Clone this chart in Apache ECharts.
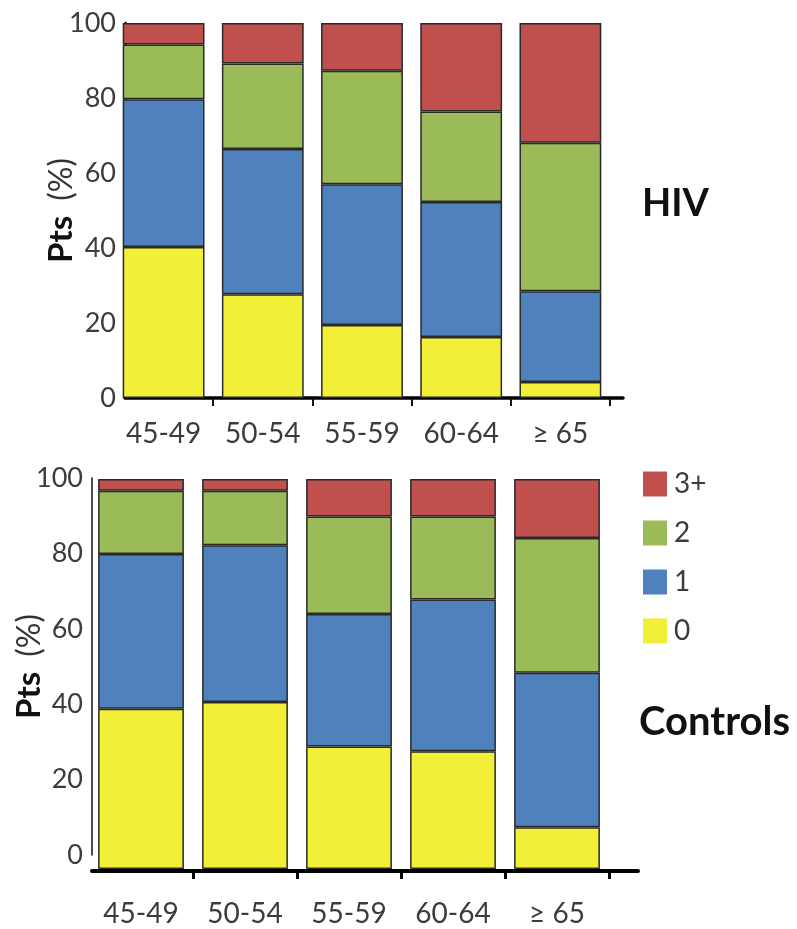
<!DOCTYPE html>
<html>
<head>
<meta charset="utf-8">
<script src="https://cdn.jsdelivr.net/npm/echarts@6/dist/echarts.min.js"></script>
<style>
html,body{margin:0;padding:0;background:#fff;}
#c{width:797px;height:929px;}
</style>
</head>
<body>
<div id="c"></div>
<script>
const categories = ['45-49', '50-54', '55-59', '60-64', '\u2265 65'];
const yTicks = [0, 20, 40, 60, 80, 100];
const seriesNames = ['0', '1', '2', '3+'];
const seriesColors = ['#F1EF38', '#4F81BD', '#9BBB59', '#C0504D'];

// HIV panel (% of patients)
const hiv0  = [40.3, 27.7, 19.5, 16.3, 4.3];
const hiv1  = [39.4, 38.7, 37.5, 36.0, 24.2];
const hiv2  = [14.6, 22.8, 30.3, 24.1, 39.6];
const hiv3p = [5.7, 10.8, 12.7, 23.6, 31.9];

// Controls panel (% of patients)
const ctl0  = [41.1, 42.8, 31.4, 30.2, 10.7];
const ctl1  = [39.7, 40.2, 34.0, 38.9, 39.6];
const ctl2  = [16.2, 14.0, 25.0, 21.3, 34.6];
const ctl3p = [3.0, 3.0, 9.6, 9.6, 15.1];

const FONT = 'Lato';
const W = 797, H = 929;

const hivData = [hiv0, hiv1, hiv2, hiv3p];
const ctlData = [ctl0, ctl1, ctl2, ctl3p];

const series = [];
hivData.forEach((d, i) => series.push({
  name: seriesNames[i], type: 'bar', stack: 'hiv', xAxisIndex: 0, yAxisIndex: 0,
  data: d, barCategoryGap: '17.5%',
  itemStyle: { color: seriesColors[i], borderColor: '#2a2a2a', borderWidth: 1.5 }
}));
ctlData.forEach((d, i) => series.push({
  name: seriesNames[i], type: 'bar', stack: 'ctl', xAxisIndex: 2, yAxisIndex: 2,
  data: d, barCategoryGap: '17.5%',
  itemStyle: { color: seriesColors[i], borderColor: '#2a2a2a', borderWidth: 1.5 }
}));

const tickLabelStyle = { fontFamily: FONT, fontSize: 28, color: '#3c3c3c' };
const yName = {
  name: '{b|Pts}{s|}{n|(%)}',
  nameLocation: 'middle',
  nameMoveOverlap: false,
  nameTextStyle: {
    rich: {
      b: { fontFamily: FONT, fontSize: 33, color: '#111', fontWeight: 'bold' },
      s: { width: 15 },
      n: { fontFamily: FONT, fontSize: 32, color: '#333' }
    }
  }
};

const option = {
  animation: false,
  backgroundColor: '#fff',
  title: [
    { text: 'HIV', left: 637, top: 180, textStyle: { fontFamily: FONT, fontSize: 38, fontWeight: 'bold', color: '#111' } },
    { text: 'Controls', left: 634, top: 697, textStyle: { fontFamily: FONT, fontSize: 40, fontWeight: 'bold', color: '#111' } }
  ],
  legend: {
    data: ['3+', '2', '1', '0'],
    orient: 'vertical', left: 638, top: 465,
    itemWidth: 24, itemHeight: 25, itemGap: 21,
    icon: 'rect',
    itemStyle: { borderWidth: 0 },
    textStyle: { fontFamily: FONT, fontSize: 28, color: '#3c3c3c', padding: [0, 0, 0, 2] }
  },
  grid: [
    { left: 114, width: 496, top: 23, height: 375 },
    { left: 125, width: 498, top: 23, height: 375 },
    { left: 89, width: 520, top: 479, height: 390 },
    { left: 92, width: 546, top: 478, height: 377 }
  ],
  xAxis: [
    { gridIndex: 0, type: 'category', data: categories,
      axisLine: { show: false },
      axisTick: { show: true, length: 8, interval: (i) => i > 0, lineStyle: { color: '#111', width: 2 } },
      axisLabel: Object.assign({ margin: 22 }, tickLabelStyle) },
    { gridIndex: 1, type: 'value', min: 0, max: 1,
      axisLine: { show: true, onZero: false, lineStyle: { color: '#000', width: 3.5 } },
      axisTick: { show: false }, axisLabel: { show: false }, splitLine: { show: false } },
    { gridIndex: 2, type: 'category', data: categories, offset: 2.5,
      axisLine: { show: false },
      axisTick: { show: true, length: 10, interval: (i) => i > 0, lineStyle: { color: '#000', width: 3 } },
      axisLabel: Object.assign({ margin: 28 }, tickLabelStyle) },
    { gridIndex: 3, type: 'value', min: 0, max: 1, offset: 15.5,
      axisLine: { show: true, onZero: false, lineStyle: { color: '#000', width: 4 } },
      axisTick: { show: false }, axisLabel: { show: false }, splitLine: { show: false } }
  ],
  yAxis: [
    { gridIndex: 0, type: 'value', min: 0, max: 100, interval: 20, show: false },
    Object.assign({ gridIndex: 1, type: 'value', min: yTicks[0], max: yTicks[yTicks.length - 1], interval: 20,
      axisLine: { show: true, onZero: false, lineStyle: { color: '#000', width: 2.5 } },
      axisTick: { show: false }, splitLine: { show: false },
      nameGap: 47,
      axisLabel: Object.assign({ margin: 9 }, tickLabelStyle, { fontSize: 27 }) }, yName),
    { gridIndex: 2, type: 'value', min: 0, max: 100, interval: 20, show: false },
    Object.assign({ gridIndex: 3, type: 'value', min: yTicks[0], max: yTicks[yTicks.length - 1], interval: 20,
      axisLine: { show: true, onZero: false, lineStyle: { color: '#111', width: 1.5 } },
      axisTick: { show: false }, splitLine: { show: false },
      nameGap: 46,
      axisLabel: Object.assign({ margin: 9 }, tickLabelStyle, { fontSize: 27 }) }, yName)
  ],
  series: series
};

const chart = echarts.init(document.getElementById('c'), null, { renderer: 'canvas', width: W, height: H });
chart.setOption(option);
</script>
</body>
</html>
